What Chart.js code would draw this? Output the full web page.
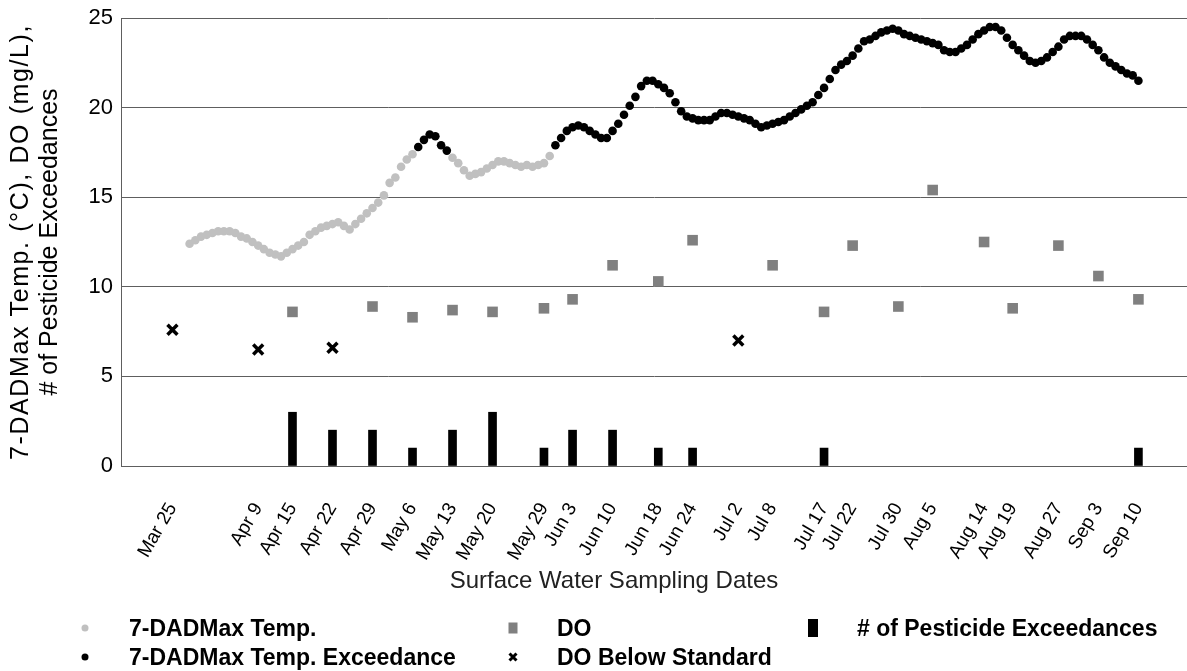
<!DOCTYPE html>
<html>
<head>
<meta charset="utf-8">
<title>Surface Water Sampling Dates</title>
<script src="https://cdn.jsdelivr.net/npm/chart.js@4.4.0/dist/chart.umd.min.js"></script>
<style>
    html, body { margin: 0; padding: 0; background: #fff; }
    #wrap { position: relative; width: 1187px; height: 671px; font-family: "Liberation Sans", Arial, sans-serif; }
    #chart { position: absolute; left: 0; top: 0; }
    #xTitle { position: absolute; left: 0; width: 1228px; top: 566px; text-align: center; font-size: 24px; color: #222; }
    .legend-item { position: absolute; display: flex; align-items: center; height: 26px; font-size: 23px; font-weight: bold; color: #000; white-space: nowrap; }
    .legend-item svg { width: 20px; height: 20px; margin-right: 34px; }
</style>
</head>
<body>
<div id="wrap">
    <canvas id="chart" width="1187" height="671"></canvas>
    <div id="xTitle">Surface Water Sampling Dates</div>
    <div id="legend"></div>
</div>
<script>
// Sampling dates (x tick labels), one entry per visit
const YEAR = 2013;
const sampleDates = ['Mar 25', 'Apr 9', 'Apr 15', 'Apr 22', 'Apr 29', 'May 6', 'May 13', 'May 20',
    'May 29', 'Jun 3', 'Jun 10', 'Jun 18', 'Jun 24', 'Jul 2', 'Jul 8', 'Jul 17', 'Jul 22',
    'Jul 30', 'Aug 5', 'Aug 14', 'Aug 19', 'Aug 27', 'Sep 3', 'Sep 10'];

// Dissolved oxygen (mg/L) on each sampling date
const doValues = [7.6, 6.5, 8.6, 6.6, 8.9, 8.3, 8.7, 8.6, 8.8, 9.3, 11.2, 10.3, 12.6,
    7.0, 11.2, 8.6, 12.3, 8.9, 15.4, 12.5, 8.8, 12.3, 10.6, 9.3];
const DO_STANDARD = 8;

// Number of pesticide exceedances on each sampling date
const pesticideCounts = [0, 0, 3, 2, 2, 1, 2, 3, 1, 2, 2, 1, 1, 0, 0, 1, 0, 0, 0, 0, 0, 0, 0, 1];

// Daily 7-day average max temperature (deg C), starting Mar 28
const tempStart = 'Mar 28';
const tempValues = [
    12.4, 12.6, 12.8, 12.9, 13.0, 13.1, 13.1, 13.1, 13.0, 12.8,
    12.7, 12.5, 12.3, 12.1, 11.9, 11.8, 11.7, 11.9, 12.1, 12.3,
    12.5, 12.9, 13.1, 13.3, 13.4, 13.5, 13.6, 13.4, 13.2, 13.5,
    13.8, 14.1, 14.4, 14.7, 15.1, 15.8, 16.1, 16.7, 17.1, 17.4,
    17.8, 18.2, 18.5, 18.4, 17.9, 17.6, 17.2, 16.9, 16.5, 16.2,
    16.3, 16.4, 16.6, 16.8, 17.0, 17.0, 16.9, 16.8, 16.7, 16.8,
    16.7, 16.8, 16.9, 17.3, 17.9, 18.3, 18.7, 18.9, 19.0, 18.9,
    18.7, 18.5, 18.3, 18.3, 18.7, 19.1, 19.6, 20.1, 20.6, 21.2,
    21.5, 21.5, 21.3, 21.1, 20.8, 20.3, 19.8, 19.5, 19.4, 19.3,
    19.3, 19.3, 19.5, 19.7, 19.7, 19.6, 19.5, 19.4, 19.3, 19.1,
    18.9, 19.0, 19.1, 19.2, 19.3, 19.5, 19.7, 19.9, 20.1, 20.3,
    20.7, 21.1, 21.6, 22.1, 22.4, 22.6, 22.9, 23.3, 23.7, 23.8,
    24.0, 24.2, 24.3, 24.4, 24.3, 24.1, 24.0, 23.9, 23.8, 23.7,
    23.6, 23.5, 23.2, 23.1, 23.1, 23.3, 23.5, 23.8, 24.1, 24.3,
    24.5, 24.5, 24.3, 23.9, 23.5, 23.2, 22.9, 22.6, 22.5, 22.6,
    22.8, 23.1, 23.4, 23.8, 24.0, 24.0, 24.0, 23.8, 23.5, 23.2,
    22.8, 22.5, 22.3, 22.1, 21.9, 21.8, 21.5
];

// Periods where the temperature exceeded the standard
const exceedancePeriods = [['May 7', 'May 12'], ['May 31', 'Sep 10']];

const xRange = ['Mar 16', 'Sep 18'];
const yTicks = [0, 5, 10, 15, 20, 25];
const yTitleLines = ['7-DADMax Temp. (°C), DO (mg/L),', '# of Pesticide Exceedances'];

const MONTHS = { Jan: 0, Feb: 1, Mar: 2, Apr: 3, May: 4, Jun: 5, Jul: 6, Aug: 7, Sep: 8, Oct: 9, Nov: 10, Dec: 11 };
function dayOf(label) {
    const [m, d] = label.split(' ');
    return Math.round((Date.UTC(YEAR, MONTHS[m], +d) - Date.UTC(YEAR, 2, 25)) / 864e5);
}

const sampleDays = sampleDates.map(dayOf);
const periods = exceedancePeriods.map(p => p.map(dayOf));
const firstTempDay = dayOf(tempStart);

const tempNormal = [];
const tempExceed = [];
tempValues.forEach((v, i) => {
    const day = firstTempDay + i;
    const hot = periods.some(([a, b]) => day >= a && day <= b);
    (hot ? tempExceed : tempNormal).push({ x: day, y: v });
});

const doOk = [];
const doLow = [];
doValues.forEach((v, i) => {
    (v < DO_STANDARD ? doLow : doOk).push({ x: sampleDays[i], y: v });
});

const pesticides = pesticideCounts
    .map((v, i) => ({ x: sampleDays[i], y: v }))
    .filter(p => p.y > 0);

const FONT = '"Liberation Sans", Arial, sans-serif';
const AXIS_COLOR = '#5e5e5e';

function noPadding(scale) {
    scale.paddingLeft = 0;
    scale.paddingRight = 0;
    scale.paddingTop = 0;
    scale.paddingBottom = 0;
}

// Two-line rotated y axis title; the first line is tracked out a little wider
const yTitlePlugin = {
    id: 'yTitle',
    afterDraw(chart) {
        const { ctx, chartArea } = chart;
        const midY = (chartArea.top + chartArea.bottom) / 2;
        ctx.save();
        ctx.fillStyle = '#000';
        ctx.font = '25px ' + FONT;
        ctx.textAlign = 'center';
        ctx.textBaseline = 'middle';
        [[21.5, '1.6px'], [50.5, '0px']].forEach(([x, spacing], i) => {
            ctx.save();
            ctx.translate(x, midY);
            ctx.rotate(-Math.PI / 2);
            ctx.letterSpacing = spacing;
            ctx.fillText(yTitleLines[i], 0, 0);
            ctx.restore();
        });
        ctx.restore();
    }
};

const chart = new Chart(document.getElementById('chart'), {
    type: 'scatter',
    data: {
        datasets: [
            {
                label: '7-DADMax Temp.',
                data: tempNormal,
                pointRadius: 4.3,
                pointBackgroundColor: '#c0c0c0',
                pointBorderWidth: 0
            },
            {
                label: '7-DADMax Temp. Exceedance',
                data: tempExceed,
                pointRadius: 4.3,
                pointBackgroundColor: '#000',
                pointBorderWidth: 0
            },
            {
                label: 'DO',
                data: doOk,
                pointStyle: 'rect',
                pointRadius: 7.5,
                pointBackgroundColor: '#808080',
                pointBorderWidth: 0
            },
            {
                label: 'DO Below Standard',
                data: doLow,
                pointStyle: 'crossRot',
                pointRadius: 7,
                pointBorderColor: '#000',
                pointBorderWidth: 3.5
            },
            {
                type: 'bar',
                label: '# of Pesticide Exceedances',
                data: pesticides,
                backgroundColor: '#000',
                barThickness: 8
            }
        ]
    },
    options: {
        responsive: false,
        animation: false,
        layout: { autoPadding: false, padding: { top: 18, right: 0, bottom: 0, left: 0 } },
        plugins: {
            legend: { display: false },
            tooltip: { enabled: false }
        },
        scales: {
            x: {
                type: 'linear',
                offset: false,
                min: dayOf(xRange[0]),
                max: dayOf(xRange[1]) + 0.5,
                afterBuildTicks: scale => {
                    scale.ticks = sampleDays.map(v => ({ value: v }));
                },
                afterFit: scale => {
                    scale.height = 205;
                    noPadding(scale);
                },
                ticks: {
                    autoSkip: false,
                    minRotation: 60,
                    maxRotation: 60,
                    padding: 25,
                    color: '#000',
                    font: { family: FONT, size: 19 },
                    callback: (value, index) => sampleDates[index]
                },
                grid: { display: false, offset: false },
                border: { display: true, color: AXIS_COLOR }
            },
            y: {
                min: 0,
                max: 25,
                afterBuildTicks: scale => {
                    scale.ticks = yTicks.map(v => ({ value: v }));
                },
                afterFit: scale => {
                    scale.width = 121;
                    noPadding(scale);
                },
                ticks: {
                    padding: 8,
                    color: '#000',
                    font: { family: FONT, size: 22 }
                },
                grid: { color: AXIS_COLOR, drawTicks: false },
                border: { display: true, color: AXIS_COLOR }
            }
        }
    },
    plugins: [yTitlePlugin]
});

// Legend laid out in columns under the plot
const legendSpots = [
    { ds: 0, left: 75, top: 615 },
    { ds: 1, left: 75, top: 644 },
    { ds: 2, left: 503, top: 615 },
    { ds: 3, left: 503, top: 644 },
    { ds: 4, left: 803, top: 615 }
];
const markers = [
    '<circle cx="10" cy="10" r="3.5" fill="#c0c0c0"/>',
    '<circle cx="10" cy="10" r="3.5" fill="#000"/>',
    '<rect x="5.5" y="4.5" width="9" height="11" fill="#808080"/>',
    '<path d="M6.5 6.5 L13.5 13.5 M13.5 6.5 L6.5 13.5" stroke="#000" stroke-width="3"/>',
    '<rect x="5" y="1" width="10" height="18" fill="#000"/>'
];
const legendEl = document.getElementById('legend');
legendSpots.forEach(spot => {
    const item = document.createElement('div');
    item.className = 'legend-item';
    item.style.left = spot.left + 'px';
    item.style.top = spot.top + 'px';
    item.innerHTML = '<svg viewBox="0 0 20 20">' + markers[spot.ds] + '</svg><span>' +
        chart.data.datasets[spot.ds].label + '</span>';
    legendEl.appendChild(item);
});
</script>
</body>
</html>
